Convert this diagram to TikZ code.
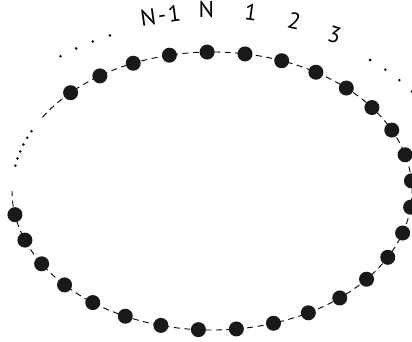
\documentclass[tikz,border=0pt]{standalone}
\usepackage{fontspec}
\setsansfont{PT Sans}
\usetikzlibrary{calc}
\tikzset{
  bead/.style={circle, fill=black!90, inner sep=0pt, minimum size=15pt},
  speck/.style={circle, fill=black, inner sep=0pt, minimum size=2.8pt},
  track/.style={dash pattern=on 6pt off 4.5pt, line width=0.9pt},
  tag/.style={font=\sffamily\fontsize{23}{23}\selectfont, inner sep=0pt}
}

\begin{document}
\begin{tikzpicture}[x=1pt,y=1pt]
  \useasboundingbox (0,0) rectangle (412,342);
  \coordinate (c) at (212,151);
  % dashed ring
  \draw[track] ($(c)+(148:200 and 139)$)
    arc[start angle=148, end angle=-180, x radius=200, y radius=139];
  % dotted gap on the left
  \foreach \k in {0,...,5}
    \node[speck] (g\k) at ($(c)+({154.5+3*\k}:200 and 139)$) {};
  % beads
  \foreach \k in {0,...,28}
    \node[bead] (b\k) at ($(c)+({135-10.9*\k}:200 and 139)$) {};
  % outer dots
  \foreach \a [count=\k] in {128,123.5,119,114.5}
    \node[speck] (pl\k) at ($(c)+(\a:246 and 171)$) {};
  \foreach \a [count=\k] in {50,45.2,40.4,35.6}
    \node[speck] (pr\k) at ($(c)+(\a:246 and 171)$) {};
  % labels
  \node[tag, rotate=8] (lNm) at ($(c)+(102.6:236 and 180)$) {N\kern2pt-\kern2pt1};
  \node[tag] (lN) at ($(c)+(91.4:236 and 182)$) {N};
  \node[tag, rotate=-8] (l1) at ($(c)+(80.5:236 and 181)$) {1};
  \node[tag, rotate=-13] (l2) at ($(c)+(69.6:236 and 181)$) {2};
  \node[tag, rotate=-18] (l3) at ($(c)+(58.7:236 and 183)$) {3};
\end{tikzpicture}
\end{document}
